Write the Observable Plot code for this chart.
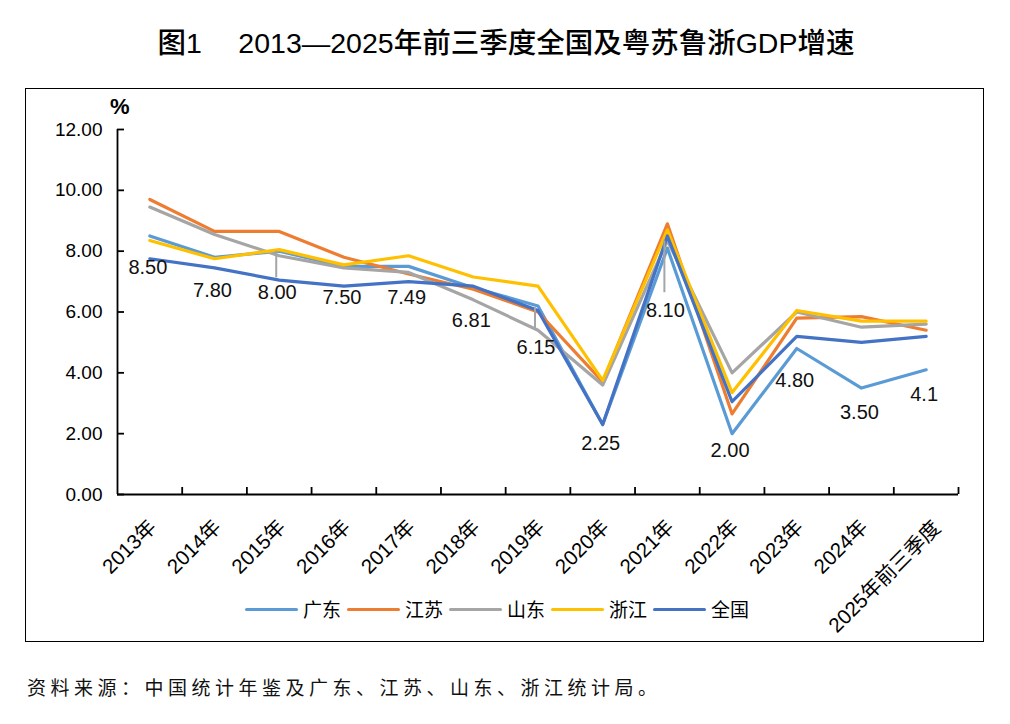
<!DOCTYPE html>
<html>
<head>
<meta charset="utf-8">
<script src="https://cdn.jsdelivr.net/npm/d3@7"></script>
<script src="https://cdn.jsdelivr.net/npm/@observablehq/plot@0.6"></script>
<style>
  body { margin: 0; background: #fff; color: #000; font-family: "Liberation Sans", "Noto Sans CJK SC", sans-serif; }
  #wrap { position: relative; width: 1010px; height: 724px; overflow: hidden; }
  #title { position: absolute; left: 0; width: 1012px; top: 24px; text-align: center; font-size: 28.5px; font-weight: 500; white-space: pre; line-height: 38px; }
  #frame { position: absolute; left: 25px; top: 88px; width: 957px; height: 552px; border: 1.6px solid #000; }
  #chart { position: absolute; left: 25px; top: 88px; }
  #pct { position: absolute; left: 110px; top: 94px; font-size: 22px; font-weight: bold; line-height: 26px; }
  #legend { position: absolute; top: 597px; left: 0; width: 1000px; display: flex; justify-content: center; align-items: center; font-family: "Noto Sans CJK SC", sans-serif; font-size: 19px; line-height: 24px; }
  #legend .item { display: flex; align-items: center; margin-right: 6px; }
  #legend .sw { width: 53px; height: 3px; border-radius: 2px; margin-right: 5px; }
  #source { position: absolute; left: 27px; top: 673px; font-size: 19px; letter-spacing: 4.5px; font-family: "Noto Sans CJK SC", sans-serif; line-height: 28px; color: #111; }
</style>
</head>
<body>
<div id="wrap">
  <div id="title"></div>
  <div id="frame"></div>
  <div id="chart"></div>
  <div id="pct">%</div>
  <div id="legend"></div>
  <div id="source"></div>
</div>
<script>
// ---- data ----
const titleText = "图1\u3000 2013—2025年前三季度全国及粤苏鲁浙GDP增速";
const sourceText = "资料来源：中国统计年鉴及广东、江苏、山东、浙江统计局。";
const categories = ["2013年","2014年","2015年","2016年","2017年","2018年","2019年","2020年","2021年","2022年","2023年","2024年","2025年前三季度"];
const seriesNames = ["广东","江苏","山东","浙江","全国"];
const guangdong = [8.5, 7.8, 8.0, 7.5, 7.5, 6.8, 6.2, 2.3, 8.1, 2.0, 4.8, 3.5, 4.1];
const jiangsu   = [9.7, 8.65, 8.65, 7.8, 7.25, 6.75, 6.0, 3.7, 8.9, 2.65, 5.8, 5.85, 5.4];
const shandong  = [9.45, 8.55, 7.85, 7.45, 7.3, 6.4, 5.4, 3.6, 8.35, 4.0, 6.0, 5.5, 5.6];
const zhejiang  = [8.35, 7.75, 8.05, 7.55, 7.85, 7.15, 6.85, 3.75, 8.7, 3.35, 6.05, 5.7, 5.7];
const national  = [7.75, 7.45, 7.05, 6.85, 7.0, 6.85, 6.05, 2.3, 8.5, 3.05, 5.2, 5.0, 5.2];
const seriesColors = ["#5B9BD5","#ED7D31","#A5A5A5","#FFC000","#4472C4"];
const yTicks = [0, 2, 4, 6, 8, 10, 12];
// data labels as printed in the chart, and the level (%) where each sits
const labelTexts = ["8.50","7.80","8.00","7.50","7.49","6.81","6.15","2.25","8.10","2.00","4.80","3.50","4.1"];
const labelLevels = [7.45, 6.72, 6.64, 6.48, 6.49, 5.72, 4.83, 1.68, 6.05, 1.45, 3.75, 2.70, 3.29];
// leader lines of the data labels (category, from %, to %)
const leaderCats = ["2015年","2019年","2021年"];
const leaderFrom = [8.02, 6.16, 8.35];
const leaderTo   = [7.14, 5.46, 6.65];

// ---- build ----
document.getElementById("title").textContent = titleText;
document.getElementById("source").textContent = sourceText;

const allSeries = [guangdong, jiangsu, shandong, zhejiang, national];
const rows = seriesNames.flatMap((s, k) => allSeries[k].map((v, i) => ({series: s, i, v})));
const idx = categories.map((_, i) => i);
const last = idx.length - 1;
const labels = labelTexts.map((t, i) => ({i, t, y: labelLevels[i]}));
const leaders = leaderCats.map((c, k) => ({i: categories.indexOf(c), y1: leaderFrom[k], y2: leaderTo[k]}));
const boundaries = idx.map(i => i + 0.5);
const xTickOpts = {tickFormat: i => categories[i], tickSize: 0, tickPadding: 25, tickRotate: -45, fontSize: 20.5, anchor: "bottom", label: null};

const chart = Plot.plot({
  width: 960,
  height: 555,
  marginLeft: 92,
  marginRight: 27,
  marginTop: 41,
  marginBottom: 149,
  style: {fontFamily: '"Liberation Sans", "Noto Sans CJK SC", sans-serif', color: "#000", background: "transparent"},
  x: {domain: [-0.5, categories.length - 0.5], axis: null},
  y: {domain: [0, 12], axis: null},
  color: {domain: seriesNames, range: seriesColors},
  marks: [
    Plot.axisY({ticks: yTicks, tickFormat: d3.format(".2f"), tickSize: 0, tickPadding: 15, fontSize: 19, anchor: "left", label: null}),
    Plot.axisX({...xTickOpts, ticks: idx.slice(0, last), dx: 3, dy: 4}),
    Plot.axisX({...xTickOpts, ticks: [last], dx: 11, dy: 5}),
    Plot.ruleX([-0.5], {y1: 0, y2: 12, stroke: "#000", strokeWidth: 1.8}),
    Plot.ruleY([0], {x1: -0.5, x2: categories.length - 0.5, stroke: "#000", strokeWidth: 1.8}),
    Plot.ruleY(yTicks, {x1: -0.5, x2: -0.5, insetRight: -7, stroke: "#000", strokeWidth: 1.8}),
    Plot.ruleX(boundaries, {y1: 0, y2: 0, insetTop: -7, stroke: "#000", strokeWidth: 1.8}),
    Plot.line(rows, {x: "i", y: "v", z: "series", stroke: "series", strokeWidth: 3.2, strokeLinejoin: "round", strokeLinecap: "round"}),
    Plot.link(leaders, {x1: "i", x2: "i", y1: "y1", y2: "y2", dx: -3, stroke: "#A5A5A5", strokeWidth: 2}),
    Plot.text(labels, {x: "i", y: "y", text: "t", dx: -2, fontSize: 20, fill: "#111"})
  ]
});
document.getElementById("chart").appendChild(chart);

const legend = document.getElementById("legend");
seriesNames.forEach((s, k) => {
  const item = document.createElement("div");
  item.className = "item";
  const sw = document.createElement("div");
  sw.className = "sw";
  sw.style.background = seriesColors[k];
  const lab = document.createElement("span");
  lab.textContent = s;
  item.appendChild(sw);
  item.appendChild(lab);
  legend.appendChild(item);
});
</script>
</body>
</html>
